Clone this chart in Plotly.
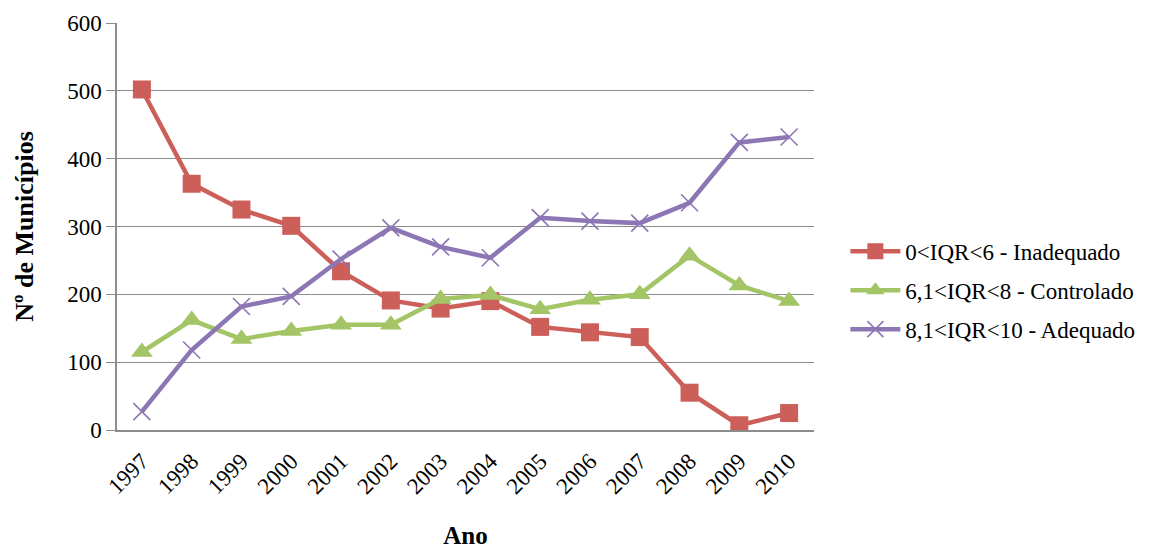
import plotly.graph_objects as go

anos = ["1997", "1998", "1999", "2000", "2001", "2002", "2003",
        "2004", "2005", "2006", "2007", "2008", "2009", "2010"]

inadequado = [502, 363, 325, 301, 234, 191, 179, 190, 152, 144, 137, 55, 7, 25]
controlado = [115, 162, 134, 146, 155, 155, 193, 199, 178, 192, 200, 257, 213, 190]
adequado = [27, 118, 182, 197, 252, 298, 270, 254, 313, 308, 305, 335, 424, 432]

series_names = ["0<IQR<6 - Inadequado", "6,1<IQR<8 - Controlado", "8,1<IQR<10 - Adequado"]
colors = ["#CD5F5A", "#A3C566", "#8C76B4"]

SERIF = "Liberation Serif"

fig = go.Figure()
fig.add_trace(go.Scatter(
    x=anos, y=inadequado, name=series_names[0], mode="lines+markers",
    legendgroup="g1",
    line=dict(color=colors[0], width=4.5),
    marker=dict(symbol="square", size=18, color=colors[0]),
))
fig.add_trace(go.Scatter(
    x=anos, y=controlado, name=series_names[1], mode="lines+markers",
    legendgroup="g2",
    line=dict(color=colors[1], width=4.5),
    marker=dict(symbol="triangle-up", size=19, color=colors[1]),
))
fig.add_trace(go.Scatter(
    x=anos, y=adequado, name=series_names[2], mode="lines+markers",
    legendgroup="g3",
    line=dict(color=colors[2], width=4.5),
    marker=dict(symbol="x-thin", size=17, color=colors[2],
                line=dict(color=colors[2], width=1.6)),
))

fig.update_layout(
    width=1163, height=549,
    margin=dict(l=117, r=349, t=23, b=119),
    paper_bgcolor="white", plot_bgcolor="white",
    font=dict(family=SERIF, color="#000000", size=23),
    legend=dict(
        x=1.045, xanchor="left", y=0.343, yanchor="middle",
        font=dict(family=SERIF, size=23, color="#000000"),
        itemwidth=50, tracegroupgap=6, bgcolor="rgba(0,0,0,0)",
    ),
    xaxis=dict(
        type="category", range=[-0.5, 13.5], automargin=False,
        showgrid=False, showline=True, linecolor="#8C8C8C", linewidth=1.5,
        tickangle=-45, ticks="", tickfont=dict(family=SERIF, size=23),
        ticklabelstandoff=7,
        title=dict(text="<b>Ano</b>", font=dict(family=SERIF, size=25), standoff=31),
        fixedrange=True,
    ),
    yaxis=dict(
        range=[0, 600], dtick=100, automargin=False,
        showgrid=True, gridcolor="#8C8C8C", gridwidth=1.2,
        showline=True, linecolor="#8C8C8C", linewidth=1.5,
        ticks="outside", ticklen=9, tickcolor="#8C8C8C", tickwidth=1.2,
        zeroline=False,
        tickfont=dict(family=SERIF, size=23),
        title=dict(text="<b>Nº de Municípios</b>", font=dict(family=SERIF, size=26), standoff=26),
        fixedrange=True,
    ),
    showlegend=True,
)

fig.write_html("out.html")
